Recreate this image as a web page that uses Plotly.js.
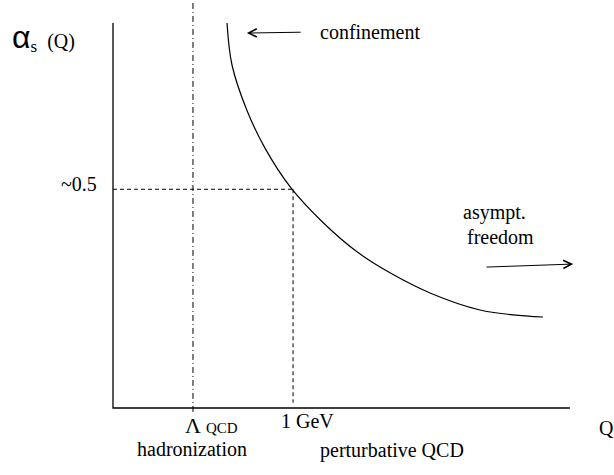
<!DOCTYPE html>
<html>
<head>
<meta charset="utf-8">
<script src="https://cdn.plot.ly/plotly-3.0.1.min.js"></script>
<style>html,body{margin:0;padding:0;background:#fff;}#chart{width:614px;height:475px;}</style>
</head>
<body>
<div id="chart"></div>
<script>
// ---- data (schematic running coupling alpha_s(Q)) ----
const Q_CURVE = [2.495, 2.604, 2.932, 3.326, 3.895, 4.595, 5.339, 6.061, 6.937, 8.031, 8.753, 9.409];
const ALPHA_CURVE = [0.880, 0.784, 0.680, 0.594, 0.503, 0.424, 0.357, 0.309, 0.263, 0.224, 0.213, 0.208];
const LAMBDA_QCD = 1.75;     // position of Lambda_QCD on Q axis
const Q_1GEV = 3.94;         // position of 1 GeV on Q axis
const ALPHA_AT_1GEV = 0.5;   // "~0.5"
const Q_MAX = 10.0;
const ALPHA_MAX = 0.88;
const LAMBDA_LINE = [-0.009, 0.933];
const GEV_LINE_BOTTOM = 0.012;
const CONF_ARROW = {tipQ: 2.93, tipA: 0.857, tailQ: 4.14, tailA: 0.859};
const AF_ARROW = {tipQ: 10.07, tipA: 0.329, tailQ: 8.14, tailA: 0.322};

const serif = 'Liberation Serif, Times New Roman, serif';
const black = '#000';

const traces = [
  // axes
  {x: [0, 0, Q_MAX], y: [ALPHA_MAX, 0, 0], mode: 'lines', line: {color: black, width: 1.3}},
  // Lambda_QCD dash-dot
  {x: [LAMBDA_QCD, LAMBDA_QCD], y: LAMBDA_LINE, mode: 'lines', line: {color: black, width: 1, dash: '6px,3px,1px,3px'}},
  // ~0.5 horizontal dashed
  {x: [0, Q_1GEV], y: [ALPHA_AT_1GEV, ALPHA_AT_1GEV], mode: 'lines', line: {color: black, width: 1, dash: '4px,3px'}},
  // 1 GeV vertical dashed
  {x: [Q_1GEV, Q_1GEV], y: [ALPHA_AT_1GEV, GEV_LINE_BOTTOM], mode: 'lines', line: {color: black, width: 1, dash: '4px,3px'}},
  // alpha_s curve
  {x: Q_CURVE, y: ALPHA_CURVE, mode: 'lines', line: {color: black, width: 1.2, shape: 'spline', smoothing: 1}}
];

function txt(t, x, y, size, xanchor) {
  return {text: t, x: x, y: y, xref: 'x', yref: 'y', showarrow: false,
          xanchor: xanchor || 'left', yanchor: 'middle', font: {family: serif, size: size || 20, color: black}};
}
function arrow(a) {
  return {text: '', x: a.tipQ, y: a.tipA, ax: a.tailQ, ay: a.tailA, axref: 'x', ayref: 'y',
          xref: 'x', yref: 'y', showarrow: true, arrowhead: 5, arrowsize: 1.6, arrowwidth: 1, arrowcolor: black, standoff: 0, startstandoff: 0};
}

const annotations = [
  txt('<span style="font-family:Liberation Sans;font-size:32px">α</span><sub><span style="font-size:17px">s</span></sub>  (Q)', -2.25, 0.846, 20),
  txt('~0.5', -0.30, 0.512, 20, 'right'),
  txt('confinement', 4.486, 0.859, 20),
  txt('asympt.', 7.62, 0.448, 20),
  txt('freedom', 7.70, 0.391, 20),
  txt('Λ <span style="font-size:15px">QCD</span>', 1.532, -0.040, 22),
  txt('1 GeV', 3.632, -0.030, 20),
  txt('Q', 10.60, -0.045, 20),
  txt('hadronization', 0.481, -0.094, 20),
  txt('perturbative QCD', 4.486, -0.098, 20),
  arrow(CONF_ARROW),
  arrow(AF_ARROW)
];

const layout = {
  width: 614, height: 475,
  margin: {l: 0, r: 0, t: 0, b: 0, pad: 0},
  paper_bgcolor: '#fff', plot_bgcolor: '#fff',
  showlegend: false,
  xaxis: {range: [-2.4726, 10.963], visible: false, fixedrange: true},
  yaxis: {range: [-0.15314, 0.93257], visible: false, fixedrange: true},
  annotations: annotations
};

Plotly.newPlot('chart', traces, layout, {displayModeBar: false, staticPlot: true});
</script>
</body>
</html>
